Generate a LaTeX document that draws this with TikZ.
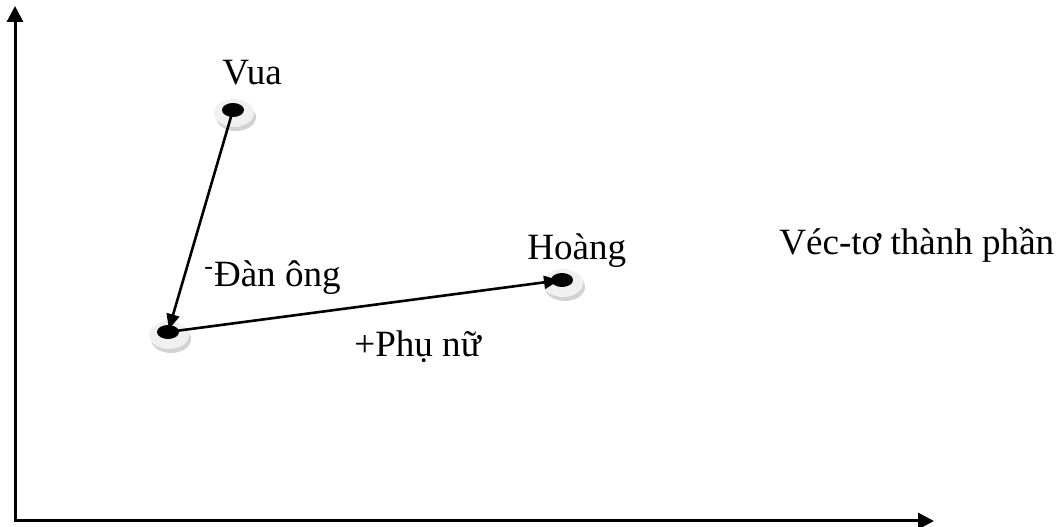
\documentclass[tikz,border=0pt]{standalone}
\usepackage{fontspec}
\setmainfont{Liberation Serif}
\usetikzlibrary{positioning,arrows.meta,shapes.geometric,calc,backgrounds}

\begin{document}
\begin{tikzpicture}[
  x=0.5bp,y=-0.5bp,
  axis/.style={line width=1.5bp,-{Triangle[length=8bp,width=8bp]}},
  vec/.style={line width=1.3bp,-{Triangle[length=7.5bp,width=6.5bp]},shorten >=1.5bp},
  hole/.style={ellipse,fill=black,inner sep=0pt,minimum width=11bp,minimum height=7bp},
  ringtop/.style={fill=gray!12},
  ringside/.style={fill=gray!35},
  lbl/.style={font=\fontsize{18.6}{22}\selectfont,inner sep=0pt},
]
\useasboundingbox (0,0) rectangle (1062,527);

% === AXES ===
\coordinate (origin) at (15,521);
\coordinate (ytip) at (15,6);
\coordinate (xtip) at (934,521);
\draw[axis] (origin) -- (ytip);
\draw[axis] ([xshift=-0.75bp]origin) -- (xtip);

% === WORD POINTS ===
\node[hole] (vua) at (233,110) {};
\node[hole] (goc) at (168,332) {};
\node[hole] (hoang) at (562,280) {};

% discs under the points
\begin{scope}[on background layer]
  \foreach \p in {vua,goc,hoang} {
    \fill[ringside] ($(\p)+(3,7)$) ellipse (10bp and 7bp);
    \fill[ringtop] ($(\p)+(1,3)$) ellipse (10bp and 7bp);
  }
\end{scope}

% Vector arithmetic
\draw[vec] (vua.center) -- (goc.center);
\draw[vec] (goc.center) -- (hoang.center);

% Labels
\node[lbl,anchor=base west] (tvua) at (222,85) {Vua};
\node[lbl,anchor=base west] (thoang) at (527,260) {Hoàng};
\node[lbl,anchor=base west] (tdan) at (204,287) {\textsuperscript{-}Đàn ông};
\node[lbl,anchor=base west] (tphu) at (354,357) {+Phụ nữ};
\node[lbl,anchor=base west] (tvec) at (779,255) {Véc-tơ thành phần};

\end{tikzpicture}
\end{document}
